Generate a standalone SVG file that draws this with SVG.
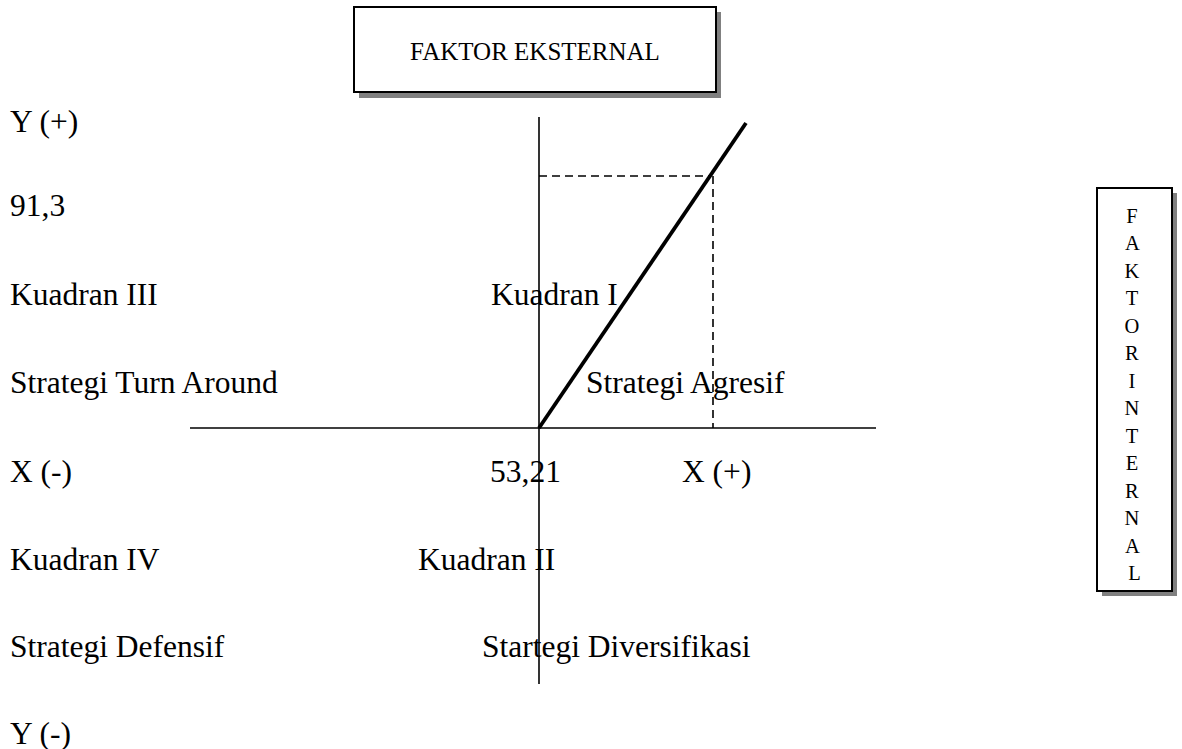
<svg xmlns="http://www.w3.org/2000/svg" width="1182" height="749" viewBox="0 0 1182 749">
<style>
text{font-family:"Liberation Serif","Times New Roman",serif;fill:#000}
.m{font-size:31.5px}
.t{font-size:25px}
.s{font-size:20.5px}
.box{fill:#fff;stroke:#000;stroke-width:2}
.sh{fill:#808080}
.ax{stroke:#000;stroke-width:1.6;fill:none}
.dash{stroke:#000;stroke-width:1.6;stroke-dasharray:8,5;fill:none}
</style>
<rect width="1182" height="749" fill="#fff"/>
<g id="faktor-eksternal">
<rect class="sh" x="359" y="12" width="362" height="86"/>
<rect class="box" x="354" y="7" width="362" height="85"/>
<text class="t" x="535" y="60" text-anchor="middle">FAKTOR EKSTERNAL</text>
</g>
<g id="faktor-internal">
<rect class="sh" x="1102" y="193" width="75" height="403"/>
<rect class="box" x="1097" y="188" width="75" height="403"/>
<text class="s" text-anchor="middle">
<tspan x="1134.5" y="222.5">F</tspan>
<tspan x="1134.5" y="250">A</tspan>
<tspan x="1134.5" y="277.5">K</tspan>
<tspan x="1134.5" y="305">T</tspan>
<tspan x="1134.5" y="332.5">O</tspan>
<tspan x="1134.5" y="360">R</tspan>
<tspan x="1134.5" y="387.5">I</tspan>
<tspan x="1134.5" y="415">N</tspan>
<tspan x="1134.5" y="442.5">T</tspan>
<tspan x="1134.5" y="470">E</tspan>
<tspan x="1134.5" y="497.5">R</tspan>
<tspan x="1134.5" y="525">N</tspan>
<tspan x="1134.5" y="552.5">A</tspan>
<tspan x="1134.5" y="580">L</tspan>
</text>
</g>
<g id="connectors">
<line class="ax" x1="539" y1="117" x2="539" y2="684"/>
<line class="ax" x1="190" y1="428" x2="876" y2="428"/>
<line x1="539" y1="428" x2="746" y2="123" stroke="#000" stroke-width="3.8"/>
<polyline class="dash" points="539,176 711,176"/>
<polyline class="dash" points="713,176 713,428"/>
</g>
<g id="labels">
<text class="m" x="10" y="132">Y (+)</text>
<text class="m" x="10" y="216">91,3</text>
<text class="m" x="10" y="305">Kuadran III</text>
<text class="m" x="491" y="305">Kuadran I</text>
<text class="m" x="10" y="393">Strategi Turn Around</text>
<text class="m" x="586" y="393">Strategi Agresif</text>
<text class="m" x="10" y="482">X (-)</text>
<text class="m" x="490" y="482">53,21</text>
<text class="m" x="682" y="482">X (+)</text>
<text class="m" x="10" y="570">Kuadran IV</text>
<text class="m" x="418" y="570">Kuadran II</text>
<text class="m" x="10" y="657">Strategi Defensif</text>
<text class="m" x="482" y="657">Startegi Diversifikasi</text>
<text class="m" x="10" y="744">Y (-)</text>
</g>
</svg>
